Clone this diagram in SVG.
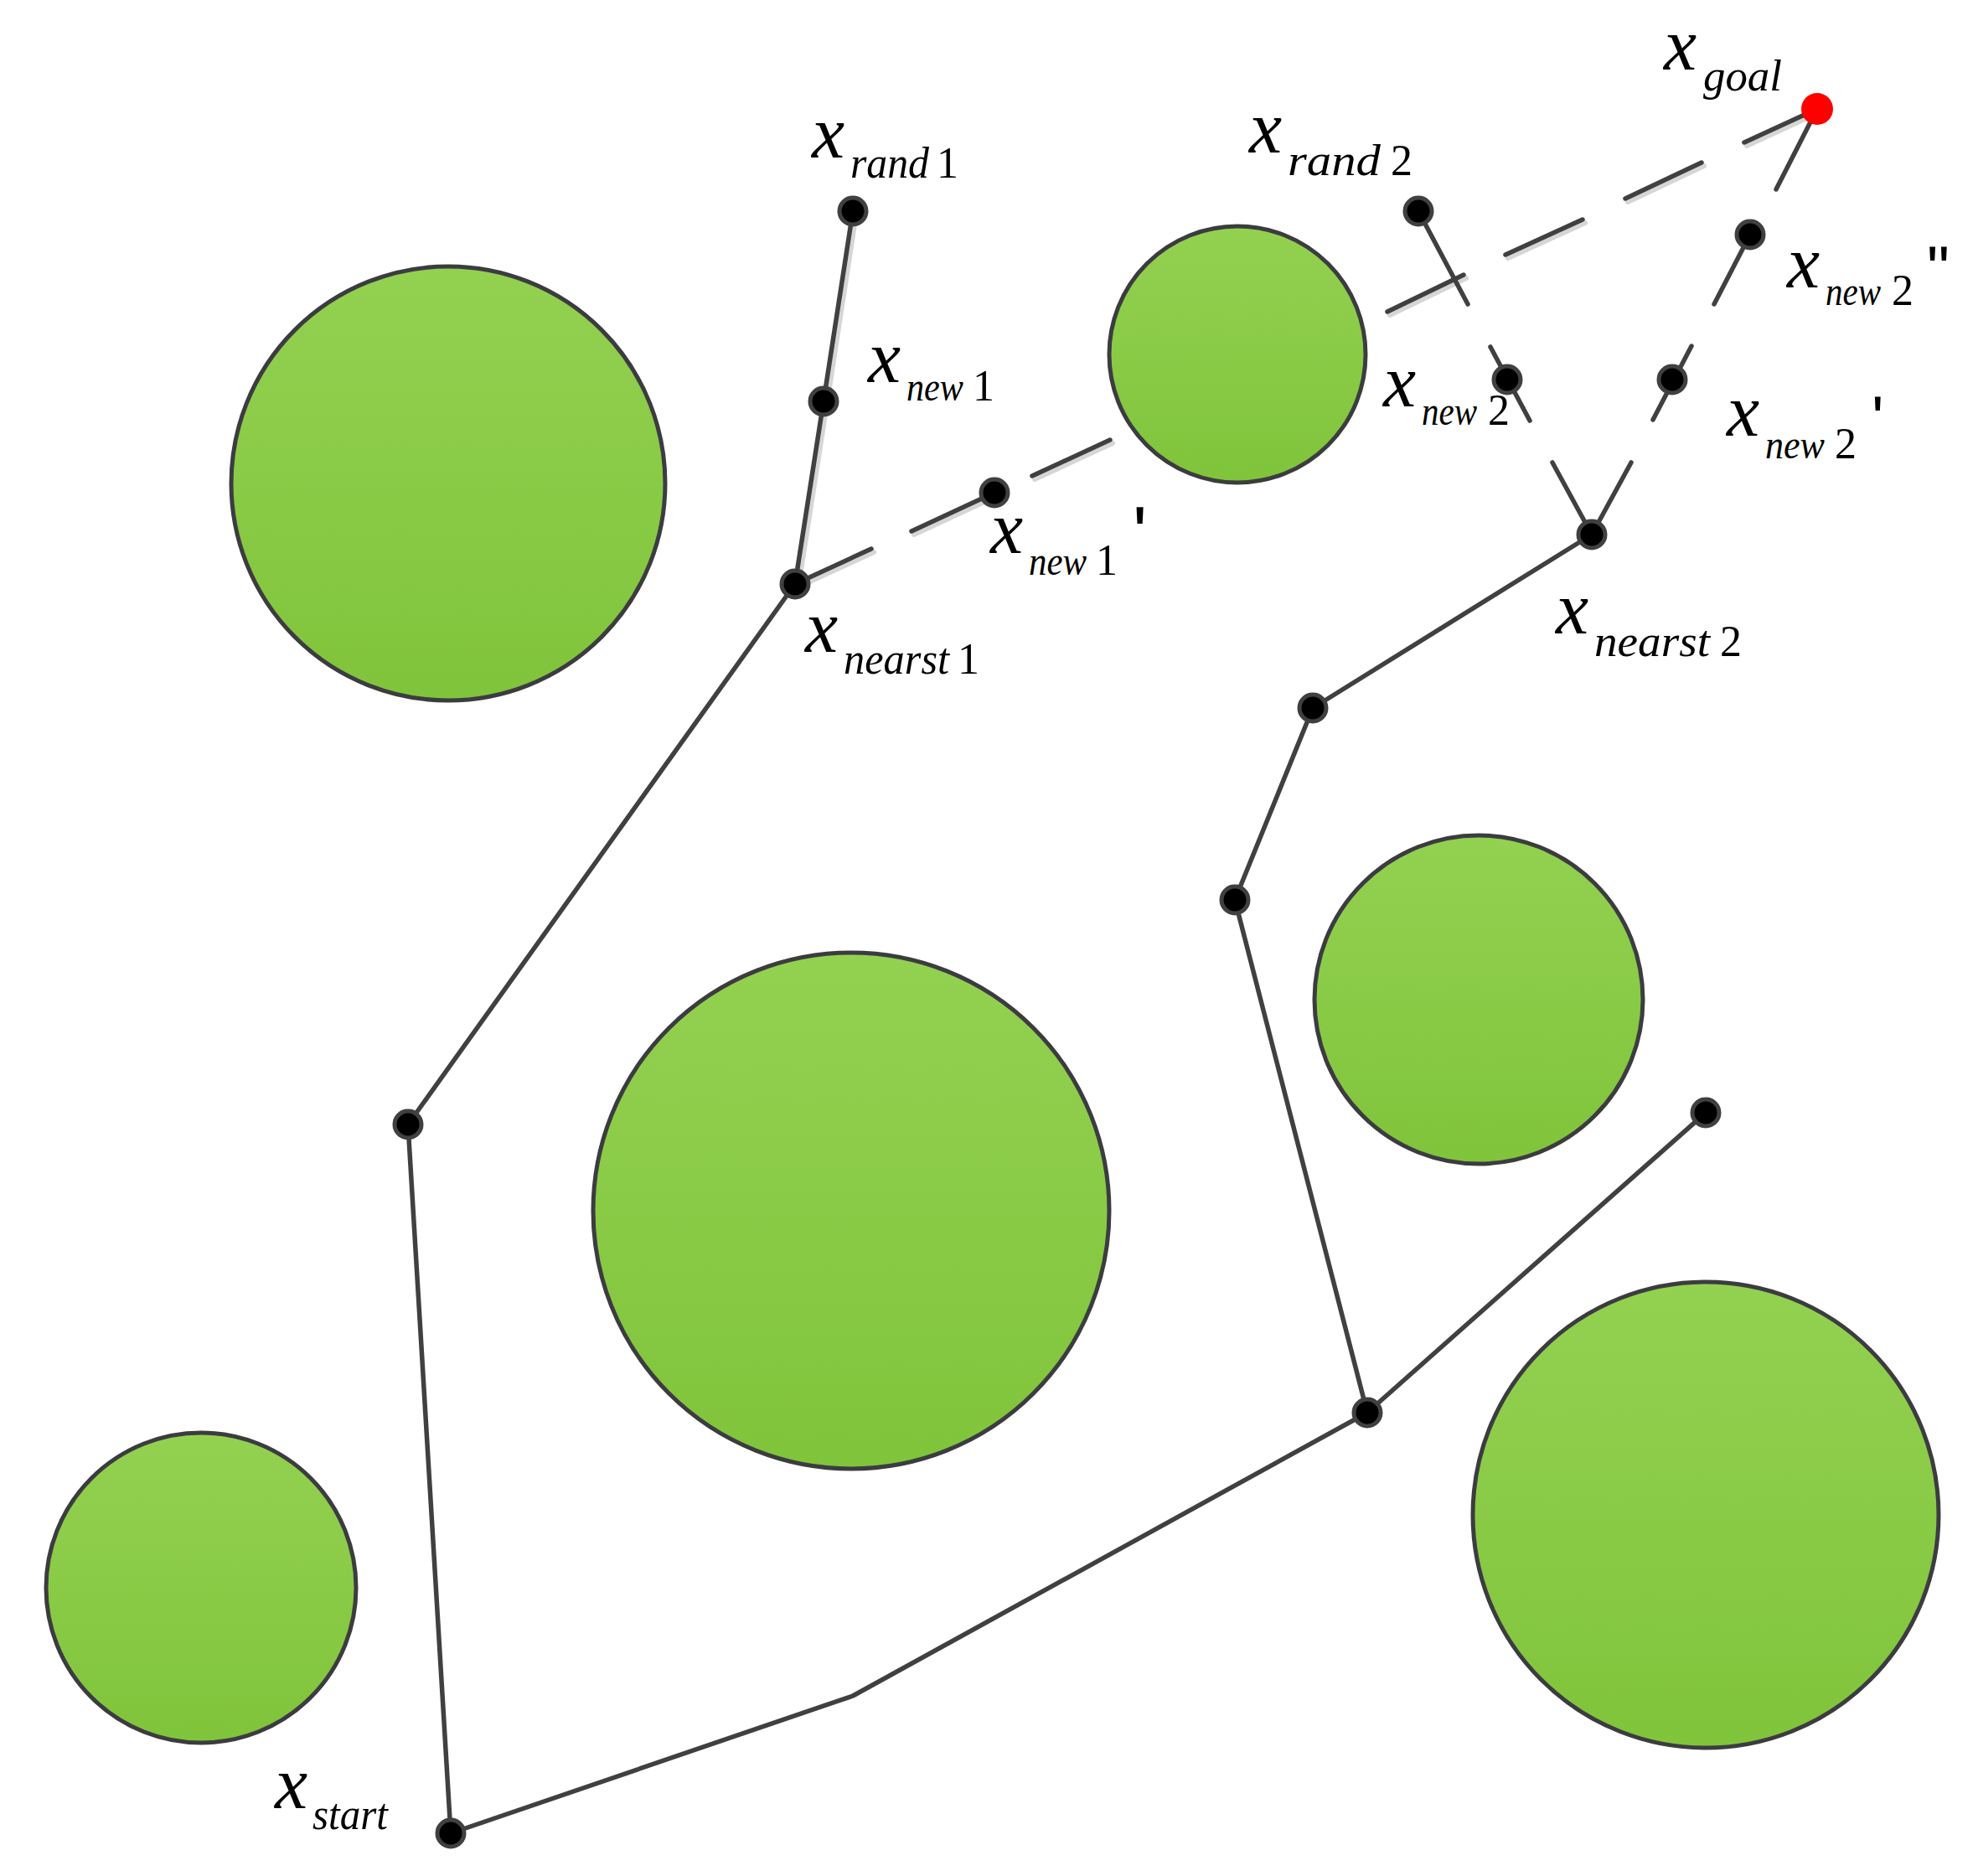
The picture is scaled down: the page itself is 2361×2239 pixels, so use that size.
<svg xmlns="http://www.w3.org/2000/svg" width="2361" height="2239" viewBox="0 0 2361 2239">
<defs>
<linearGradient id="g" x1="0" y1="0" x2="0" y2="1">
<stop offset="0" stop-color="#93d151"/>
<stop offset="1" stop-color="#80c43b"/>
</linearGradient>
<style>
.obs{fill:url(#g);stroke:#3c3c40;stroke-width:5}
.ln{fill:none;stroke:#404040;stroke-width:5.5;stroke-linecap:round;stroke-linejoin:round}
.sh{fill:none;stroke:#d6d6d6;stroke-width:6;stroke-linecap:round}
.dot{fill:#000;stroke:#404040;stroke-width:5}
.goal{fill:#f00;stroke:none}
.t{font-family:"Liberation Serif",serif;font-style:italic;fill:#000}
.x{font-size:88px}
.s{font-size:52px}
.n{font-size:48px}
.u{font-style:normal}
.p{font-family:"Liberation Sans",sans-serif;fill:#000}
</style>
</defs>
<rect width="2361" height="2239" fill="#fff"/>
<g id="obstacles">
<circle id="obs1" class="obs" cx="535" cy="577" r="259"/>
<circle id="obs2" class="obs" cx="1477" cy="423" r="153"/>
<circle id="obs3" class="obs" cx="1016" cy="1445" r="308"/>
<circle id="obs4" class="obs" cx="1765" cy="1193" r="196"/>
<circle id="obs5" class="obs" cx="240" cy="1895" r="185"/>
<circle id="obs6" class="obs" cx="2036" cy="1808" r="278"/>
</g>
<g id="connectors">
<g id="shadows">
<path class="sh" d="M953,700 L987,482 L1022,255"/>
<path class="sh" d="M952,701 L1043,659 M1091,638 L1190,592 M1235,572 L1328,529 M1659,376 L1750,332 M1800,308 L1892,266 M1943,241 L2034,198 M2085,174 L2165,137"/>
</g>
<path class="ln" d="M538,2188 L487,1342 L949,697"/>
<path class="ln" d="M949,697 L983,479 L1018,252"/>
<path class="ln" d="M538,2188 L1018,2024 L1632,1686 L2036,1328"/>
<path class="ln" d="M1632,1686 L1474,1074 L1567,845 L1900,638"/>
<path class="ln" d="M949,697 L1040,655 M1088,634 L1187,588 M1232,568 L1325,525 M1656,372 L1747,328 M1797,304 L1889,262 M1940,237 L2031,194 M2082,170 L2169,130"/>
<path class="ln" d="M1693,252 L1752,363 M1779,414 L1826,502 M1853,552 L1900,638"/>
<path class="ln" d="M1900,638 L1947,552 M1973,501 L2019,413 M2046,363 L2089,280 M2120,226 L2169,130"/>
</g>
<g id="x_start">
<circle class="dot" cx="538" cy="2188" r="16"/>
<text class="t"><tspan class="x" x="328" y="2158">x</tspan><tspan class="s" x="373" y="2183" textLength="90" lengthAdjust="spacingAndGlyphs">start</tspan></text>
</g>
<g id="n_a"><circle class="dot" cx="487" cy="1342" r="16"/></g>
<g id="x_nearst1">
<circle class="dot" cx="949" cy="697" r="16"/>
<text class="t"><tspan class="x" x="961" y="778">x</tspan><tspan class="s" x="1007" y="804" textLength="126" lengthAdjust="spacingAndGlyphs">nearst</tspan><tspan class="s u" x="1143" y="804">1</tspan></text>
</g>
<g id="x_new1">
<circle class="dot" cx="983" cy="479" r="16"/>
<text class="t"><tspan class="x" x="1036" y="456">x</tspan><tspan class="n" x="1082" y="478" textLength="68" lengthAdjust="spacingAndGlyphs">new</tspan><tspan class="s u" x="1161" y="478">1</tspan></text>
</g>
<g id="x_rand1">
<circle class="dot" cx="1018" cy="252" r="16"/>
<text class="t"><tspan class="x" x="969" y="188">x</tspan><tspan class="s" x="1015" y="212" textLength="94" lengthAdjust="spacingAndGlyphs">rand</tspan><tspan class="s u" x="1118" y="212">1</tspan></text>
</g>
<g id="x_new1p">
<circle class="dot" cx="1187" cy="588" r="16"/>
<text class="t"><tspan class="x" x="1182" y="660">x</tspan><tspan class="n" x="1228" y="686" textLength="69" lengthAdjust="spacingAndGlyphs">new</tspan><tspan class="s u" x="1308" y="686">1</tspan></text>
<text class="p" x="1352" y="668" font-size="90">'</text>
</g>
<g id="n_b"><circle class="dot" cx="1632" cy="1686" r="16"/></g>
<g id="n_c"><circle class="dot" cx="2036" cy="1328" r="16"/></g>
<g id="n_d"><circle class="dot" cx="1474" cy="1074" r="16"/></g>
<g id="n_e"><circle class="dot" cx="1567" cy="845" r="16"/></g>
<g id="x_nearst2">
<circle class="dot" cx="1900" cy="638" r="16"/>
<text class="t"><tspan class="x" x="1857" y="756">x</tspan><tspan class="s" x="1903" y="783" textLength="138" lengthAdjust="spacingAndGlyphs">nearst</tspan><tspan class="s u" x="2053" y="783">2</tspan></text>
</g>
<g id="x_new2">
<circle class="dot" cx="1799" cy="453" r="16"/>
<text class="t"><tspan class="x" x="1651" y="485">x</tspan><tspan class="n" x="1697" y="507" textLength="66" lengthAdjust="spacingAndGlyphs">new</tspan><tspan class="s u" x="1776" y="507">2</tspan></text>
</g>
<g id="x_rand2">
<circle class="dot" cx="1693" cy="252" r="16"/>
<text class="t"><tspan class="x" x="1491" y="182">x</tspan><tspan class="s" x="1537" y="209" textLength="111" lengthAdjust="spacingAndGlyphs">rand</tspan><tspan class="s u" x="1660" y="209">2</tspan></text>
</g>
<g id="x_new2p">
<circle class="dot" cx="1996" cy="453" r="16"/>
<text class="t"><tspan class="x" x="2061" y="520">x</tspan><tspan class="n" x="2107" y="547" textLength="71" lengthAdjust="spacingAndGlyphs">new</tspan><tspan class="s u" x="2190" y="547">2</tspan></text>
<text class="p" x="2234" y="526" font-size="76">'</text>
</g>
<g id="x_new2pp">
<circle class="dot" cx="2089" cy="280" r="16"/>
<text class="t"><tspan class="x" x="2133" y="343">x</tspan><tspan class="n" x="2179" y="364" textLength="66" lengthAdjust="spacingAndGlyphs">new</tspan><tspan class="s u" x="2258" y="364">2</tspan></text>
<text class="p" x="2300" y="347" font-size="76">"</text>
</g>
<g id="x_goal">
<circle class="goal" cx="2169" cy="130" r="19"/>
<text class="t"><tspan class="x" x="1986" y="83">x</tspan><tspan class="s" x="2033" y="108" textLength="94" lengthAdjust="spacingAndGlyphs">goal</tspan></text>
</g>
</svg>
